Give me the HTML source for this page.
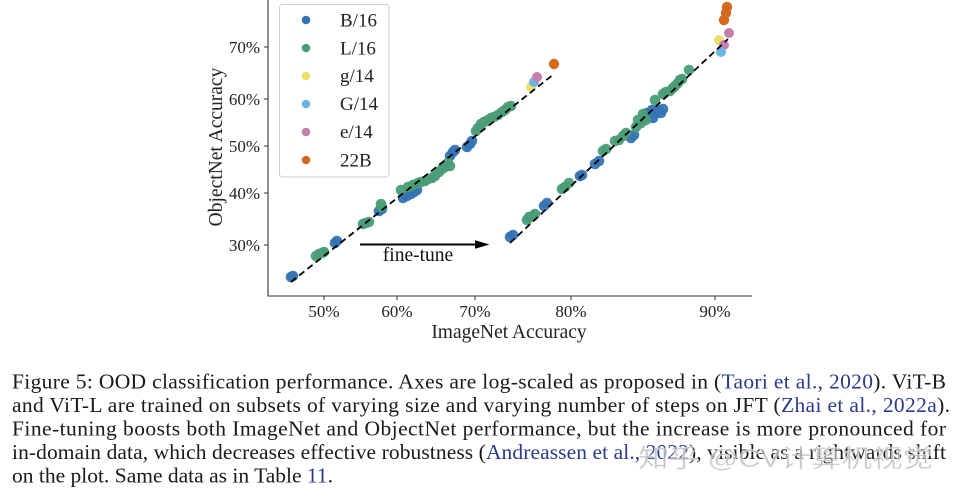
<!DOCTYPE html>
<html>
<head>
<meta charset="utf-8">
<style>
  html, body { margin:0; padding:0; background:#fff; }
  body { width:960px; height:497px; overflow:hidden; }
  svg { display:block; }
  .serif { font-family: "Liberation Serif", "DejaVu Serif", serif; }
</style>
</head>
<body>
<svg width="960" height="497" viewBox="0 0 960 497" xmlns="http://www.w3.org/2000/svg">
  <rect x="0" y="0" width="960" height="497" fill="#fff"/>

  <!-- Axes spines -->
  <line x1="268" y1="0" x2="268" y2="296.5" stroke="#333" stroke-width="1.1"/>
  <line x1="267.5" y1="296" x2="752" y2="296" stroke="#333" stroke-width="1.1"/>

  <!-- Y ticks -->
  <g stroke="#333" stroke-width="1">
    <line x1="264" y1="47" x2="268" y2="47"/>
    <line x1="264" y1="99" x2="268" y2="99"/>
    <line x1="264" y1="146" x2="268" y2="146"/>
    <line x1="264" y1="193" x2="268" y2="193"/>
    <line x1="264" y1="245" x2="268" y2="245"/>
    <!-- X ticks -->
    <line x1="324" y1="296" x2="324" y2="300"/>
    <line x1="397" y1="296" x2="397" y2="300"/>
    <line x1="475" y1="296" x2="475" y2="300"/>
    <line x1="571" y1="296" x2="571" y2="300"/>
    <line x1="715" y1="296" x2="715" y2="300"/>
  </g>

  <!-- Tick labels -->
  <g class="serif" font-size="17" fill="#222">
    <text x="260" y="53" text-anchor="end">70%</text>
    <text x="260" y="105" text-anchor="end">60%</text>
    <text x="260" y="152" text-anchor="end">50%</text>
    <text x="260" y="199" text-anchor="end">40%</text>
    <text x="260" y="251" text-anchor="end">30%</text>
    <text x="324" y="317" text-anchor="middle">50%</text>
    <text x="397" y="317" text-anchor="middle">60%</text>
    <text x="475" y="317" text-anchor="middle">70%</text>
    <text x="571" y="317" text-anchor="middle">80%</text>
    <text x="715" y="317" text-anchor="middle">90%</text>
  </g>

  <!-- Axis labels -->
  <text class="serif" x="509" y="338" font-size="19.5" fill="#222" text-anchor="middle">ImageNet Accuracy</text>
  <text class="serif" x="0" y="0" font-size="19.5" fill="#222" text-anchor="middle" transform="translate(222,147) rotate(-90)">ObjectNet Accuracy</text>

  <!-- Data: left (pre-fine-tune) cluster -->
  <g fill="#3574b3" fill-opacity="0.95">
    <circle cx="291" cy="277" r="5.3"/><circle cx="293" cy="276" r="5.3"/>
    <circle cx="335" cy="243" r="5.3"/><circle cx="337" cy="241" r="5.3"/>
    <circle cx="379" cy="211" r="5.3"/><circle cx="382" cy="209" r="5.3"/>
    <circle cx="403" cy="198" r="5.3"/><circle cx="407" cy="196" r="5.3"/>
    <circle cx="411" cy="194" r="5.3"/><circle cx="414" cy="192" r="5.3"/>
    <circle cx="417" cy="190" r="5.3"/>
    <circle cx="450" cy="156" r="5.3"/><circle cx="453" cy="152" r="5.3"/><circle cx="455" cy="150" r="5.3"/>
    <circle cx="467" cy="147" r="5.3"/><circle cx="470" cy="144" r="5.3"/><circle cx="472" cy="141" r="5.3"/>
  </g>
  <g fill="#4a9d77" fill-opacity="0.95">
    <circle cx="316" cy="256" r="5.3"/><circle cx="319" cy="254" r="5.3"/>
    <circle cx="322" cy="253" r="5.3"/><circle cx="324" cy="252" r="5.3"/>
    <circle cx="363" cy="224" r="5.3"/><circle cx="366" cy="223" r="5.3"/><circle cx="369" cy="222" r="5.3"/>
    <circle cx="381" cy="204" r="5.3"/><circle cx="382" cy="207" r="5.3"/>
    <circle cx="401" cy="190" r="5.3"/><circle cx="408" cy="187" r="5.3"/>
    <circle cx="413" cy="185" r="5.3"/><circle cx="418" cy="183" r="5.3"/>
    <circle cx="421" cy="182" r="5.3"/><circle cx="425" cy="181" r="5.3"/>
    <circle cx="428" cy="179" r="5.3"/><circle cx="432" cy="178" r="5.3"/>
    <circle cx="435" cy="176" r="5.3"/><circle cx="439" cy="172" r="5.3"/>
    <circle cx="442" cy="169" r="5.3"/><circle cx="445" cy="167" r="5.3"/>
    <circle cx="448" cy="163" r="5.3"/><circle cx="450" cy="166" r="5.3"/>
    <circle cx="476" cy="131" r="5.3"/><circle cx="478" cy="128" r="5.3"/>
    <circle cx="481" cy="124" r="5.3"/><circle cx="484" cy="122" r="5.3"/>
    <circle cx="488" cy="120" r="5.3"/><circle cx="491" cy="118" r="5.3"/>
    <circle cx="494" cy="117" r="5.3"/><circle cx="498" cy="115" r="5.3"/>
    <circle cx="502" cy="112" r="5.3"/><circle cx="505" cy="110" r="5.3"/>
    <circle cx="508" cy="107" r="5.3"/><circle cx="511" cy="106" r="5.3"/>
  </g>
  <circle cx="531" cy="87" r="5" fill="#ebe06a"/>
  <circle cx="534" cy="82" r="5" fill="#6bb4e4"/>
  <circle cx="537" cy="77" r="5" fill="#c47fab"/>
  <circle cx="554" cy="64" r="5.2" fill="#d4681f"/>

  <!-- Data: right (fine-tuned) cluster -->
  <g fill="#3574b3" fill-opacity="0.95">
    <circle cx="510" cy="237" r="5.3"/><circle cx="513" cy="235" r="5.3"/>
    <circle cx="544" cy="206" r="5.3"/><circle cx="547" cy="203" r="5.3"/>
    <circle cx="580" cy="176" r="5.3"/><circle cx="582" cy="175" r="5.3"/>
    <circle cx="595" cy="164" r="5.3"/><circle cx="599" cy="161" r="5.3"/>
    <circle cx="631" cy="138" r="5.3"/><circle cx="634" cy="135" r="5.3"/>
    <circle cx="647" cy="113" r="5.3"/><circle cx="650" cy="117" r="5.3"/>
    <circle cx="653" cy="118" r="5.3"/><circle cx="655" cy="114" r="5.3"/>
    <circle cx="658" cy="110" r="5.3"/><circle cx="661" cy="113" r="5.3"/>
    <circle cx="663" cy="109" r="5.3"/><circle cx="652" cy="110" r="5.3"/>
  </g>
  <g fill="#4a9d77" fill-opacity="0.95">
    <circle cx="527" cy="220" r="5.3"/><circle cx="529" cy="217" r="5.3"/>
    <circle cx="533" cy="216" r="5.3"/><circle cx="535" cy="214" r="5.3"/>
    <circle cx="562" cy="189" r="5.3"/><circle cx="565" cy="187" r="5.3"/><circle cx="569" cy="183" r="5.3"/>
    <circle cx="603" cy="151" r="5.3"/><circle cx="606" cy="149" r="5.3"/>
    <circle cx="615" cy="141" r="5.3"/><circle cx="619" cy="140" r="5.3"/>
    <circle cx="623" cy="136" r="5.3"/><circle cx="626" cy="133" r="5.3"/>
    <circle cx="636" cy="127" r="5.3"/><circle cx="638" cy="120" r="5.3"/>
    <circle cx="641" cy="123" r="5.3"/><circle cx="643" cy="114" r="5.3"/>
    <circle cx="646" cy="120" r="5.3"/>
    <circle cx="655" cy="100" r="5.3"/><circle cx="663" cy="94" r="5.3"/>
    <circle cx="666" cy="92" r="5.3"/><circle cx="670" cy="91" r="5.3"/>
    <circle cx="673" cy="88" r="5.3"/><circle cx="675" cy="86" r="5.3"/>
    <circle cx="678" cy="83" r="5.3"/><circle cx="680" cy="80" r="5.3"/>
    <circle cx="682" cy="79" r="5.3"/>
    <circle cx="689" cy="70" r="5.3"/>
  </g>
  <circle cx="719" cy="40" r="5" fill="#ebe06a"/>
  <circle cx="724" cy="45" r="5" fill="#c47fab"/>
  <circle cx="721" cy="52" r="5" fill="#6bb4e4"/>
  <circle cx="729" cy="33" r="5" fill="#c47fab"/>
  <circle cx="724" cy="20" r="5.2" fill="#d4681f"/>
  <circle cx="726" cy="13" r="5.2" fill="#d4681f"/>
  <circle cx="727" cy="7" r="5.2" fill="#d4681f"/>

  <!-- Fit lines (dashed) -->
  <line x1="291" y1="282" x2="554" y2="74" stroke="#000" stroke-width="1.8" stroke-dasharray="6.5,4"/>
  <line x1="510" y1="243" x2="728" y2="39" stroke="#000" stroke-width="1.8" stroke-dasharray="6.5,4"/>

  <!-- Arrow -->
  <line x1="360" y1="244.5" x2="477" y2="244.5" stroke="#000" stroke-width="2"/>
  <polygon points="475,240.3 489.5,244.5 475,248.7" fill="#000"/>
  <text class="serif" x="418" y="261" font-size="19.5" fill="#111" text-anchor="middle">fine-tune</text>

  <!-- Legend -->
  <rect x="279.5" y="4.5" width="109.5" height="172.5" rx="3" ry="3" fill="#fff" fill-opacity="0.85" stroke="#d0d0d0" stroke-width="1"/>
  <circle cx="306" cy="20" r="4.3" fill="#3574b3"/>
  <circle cx="306" cy="48" r="4.3" fill="#4a9d77"/>
  <circle cx="306" cy="76" r="4.3" fill="#ebe06a"/>
  <circle cx="306" cy="104" r="4.3" fill="#6bb4e4"/>
  <circle cx="306" cy="132" r="4.3" fill="#c47fab"/>
  <circle cx="306" cy="160" r="4.3" fill="#d4681f"/>
  <g class="serif" font-size="19" fill="#222">
    <text x="340" y="26.5">B/16</text>
    <text x="340" y="54.3">L/16</text>
    <text x="340" y="82.2">g/14</text>
    <text x="340" y="110">G/14</text>
    <text x="340" y="138">e/14</text>
    <text x="340" y="166.3">22B</text>
  </g>

  <!-- Caption -->
  <g class="serif" font-size="21.5" fill="#1a1a1a">
    <text x="12" y="388.5" textLength="934" lengthAdjust="spacing">Figure 5: OOD classification performance.  Axes are log-scaled as proposed in (<tspan fill="#2b3a8c">Taori et al., 2020</tspan>).  ViT-B</text>
    <text x="12" y="412" textLength="938" lengthAdjust="spacing">and ViT-L are trained on subsets of varying size and varying number of steps on JFT (<tspan fill="#2b3a8c">Zhai et al., 2022a</tspan>).</text>
    <text x="12" y="435.5" textLength="934" lengthAdjust="spacing">Fine-tuning boosts both ImageNet and ObjectNet performance, but the increase is more pronounced for</text>
    <text x="12" y="459" textLength="934" lengthAdjust="spacing">in-domain data, which decreases effective robustness (<tspan fill="#2b3a8c">Andreassen et al., 2022</tspan>), visible as a rightwards shift</text>
    <text x="12" y="482.5" textLength="321" lengthAdjust="spacing">on the plot. Same data as in Table <tspan fill="#2b3a8c">11</tspan>.</text>
  </g>

  <!-- Watermark -->
  <text x="638" y="467" font-size="25" textLength="295" lengthAdjust="spacingAndGlyphs"
        font-family="'Liberation Sans', 'Noto Sans CJK SC', sans-serif"
        fill="#b0b0b0" fill-opacity="0.8" stroke="#ffffff" stroke-opacity="0.5" stroke-width="1">知乎 @CV计算机视觉</text>
</svg>
</body>
</html>
